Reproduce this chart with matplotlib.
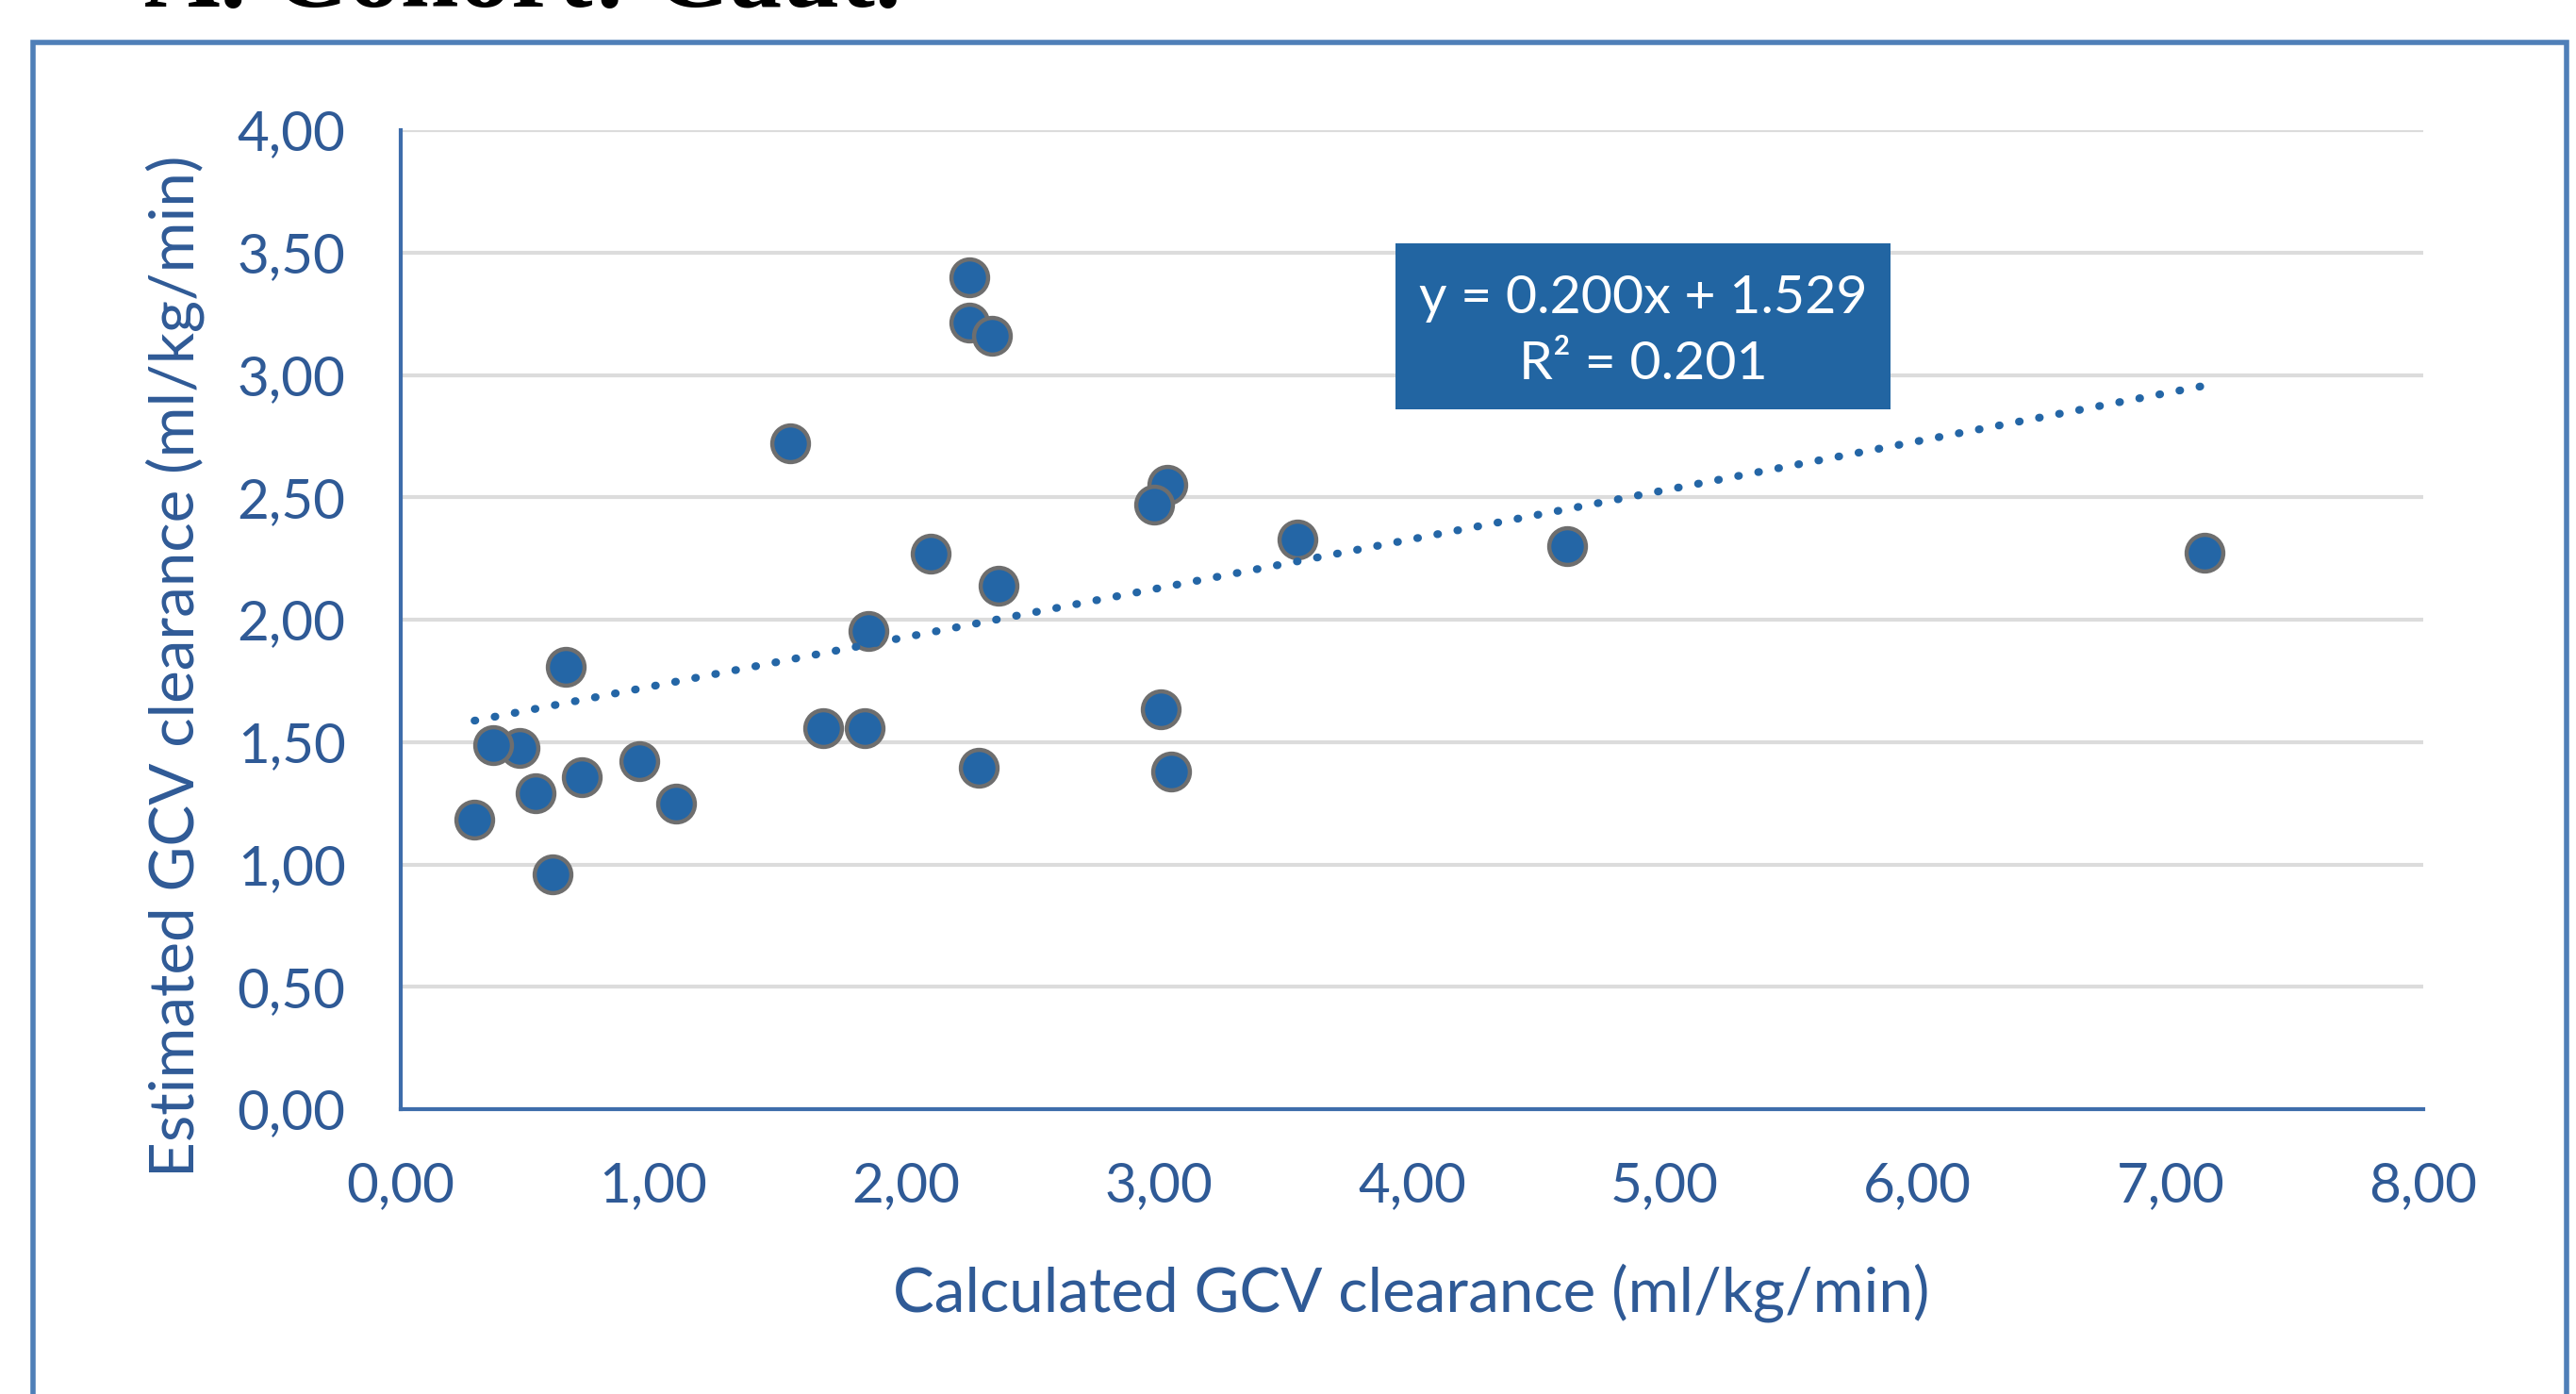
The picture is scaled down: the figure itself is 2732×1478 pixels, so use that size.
import matplotlib
matplotlib.use("Agg")
import matplotlib.pyplot as plt
from matplotlib.patches import Rectangle

# ---- data ----
calc_clearance = [0.292, 0.469, 0.367, 0.535, 0.601, 0.653, 0.715, 0.945, 1.088,
                  1.539, 1.670, 1.836, 1.849, 2.095, 2.248, 2.248, 2.340, 2.288,
                  2.365, 3.034, 2.981, 3.006, 3.048, 3.547, 4.613, 7.135]
est_clearance = [1.184, 1.476, 1.489, 1.290, 0.959, 1.807, 1.357, 1.421, 1.249,
                 2.721, 1.556, 1.556, 1.955, 2.270, 3.399, 3.212, 3.159, 1.395,
                 2.139, 2.550, 2.469, 1.633, 1.380, 2.328, 2.301, 2.272]
trend_slope = 0.200
trend_intercept = 1.529
trend_r2 = 0.201
x_ticks = [0, 1, 2, 3, 4, 5, 6, 7, 8]
y_ticks = [0, 0.5, 1.0, 1.5, 2.0, 2.5, 3.0, 3.5, 4.0]
x_label = "Calculated GCV clearance (ml/kg/min)"
y_label = "Estimated GCV clearance (ml/kg/min)"
title_text = "A. Cohort: Caut."

W, H = 2732, 1478
DPI = 200
plt.rcParams['font.family'] = ['Lato', 'DejaVu Sans']

fig = plt.figure(figsize=(W / DPI, H / DPI), dpi=DPI)
fig.patch.set_facecolor('white')

def fx(px):
    return px / W

def fy(py):
    return 1 - py / H

ax = fig.add_axes([fx(425), fy(1176), fx(2570) - fx(425), fy(138) - fy(1176)])

TXT = '#2F5A96'
SPINE = '#3E6DAB'
BLUE = '#2466A6'

ax.set_xlim(0, 8)
ax.set_ylim(0, 4)
ax.set_xticks(x_ticks)
ax.set_yticks(y_ticks)
ax.set_xticklabels([f"{v:.2f}".replace('.', ',') for v in x_ticks])
ax.set_yticklabels([f"{v:.2f}".replace('.', ',') for v in y_ticks])
ax.tick_params(axis='both', length=0, labelsize=21, labelcolor=TXT)
ax.tick_params(axis='x', pad=20)
ax.tick_params(axis='y', pad=21)

ax.grid(axis='y', color='#DCDCDC', linewidth=1.5)
ax.set_axisbelow(True)
for s in ['top', 'right']:
    ax.spines[s].set_visible(False)
for s in ['left', 'bottom']:
    ax.spines[s].set_color(SPINE)
    ax.spines[s].set_linewidth(1.5)

# scatter points
ax.plot(calc_clearance, est_clearance, linestyle='none', marker='o',
        markersize=14, markerfacecolor=BLUE, markeredgecolor='#6E6E6E',
        markeredgewidth=1.6, zorder=3, clip_on=False)

# trendline
xmin, xmax = min(calc_clearance), max(calc_clearance)
ax.plot([xmin, xmax], [trend_slope * xmin + trend_intercept,
                       trend_slope * xmax + trend_intercept],
        color=BLUE, linewidth=3.0, linestyle=(0, (0.1, 2.5)),
        dash_capstyle='round', zorder=4)

# equation box
ax.add_patch(Rectangle((3.935, 2.859), 5.893 - 3.935, 3.538 - 2.859,
                       facecolor='#2265A2', edgecolor='none', zorder=5))
ax.text((3.935 + 5.893) / 2, 3.314,
        f"y = {trend_slope:.3f}x + {trend_intercept:.3f}",
        color='white', fontsize=20.6, ha='center', va='center', zorder=6)
ax.text((3.935 + 5.893) / 2, 3.044, f"R² = {trend_r2:.3f}",
        color='white', fontsize=20.6, ha='center', va='center', zorder=6)

# axis titles
fig.text(fx(1497), fy(1371), x_label, color=TXT, fontsize=23.6,
         ha='center', va='center')
fig.text(fx(186), fy(706), y_label, color=TXT, fontsize=23.6,
         ha='center', va='center', rotation=90)

# outer frame
fig.add_artist(Rectangle((fx(35), -0.1), fx(2722) - fx(35), fy(45) + 0.1,
                         transform=fig.transFigure, facecolor='none',
                         edgecolor='#4F7FB8', linewidth=2.0, clip_on=False))

# heading, cut off at the very top as in the reference
fig.text(fx(153), fy(7), title_text, color='black', fontsize=40,
         fontweight='bold', family=['Liberation Serif', 'DejaVu Serif'],
         ha='left', va='baseline')

fig.savefig('out.png', dpi=DPI, facecolor='white')
